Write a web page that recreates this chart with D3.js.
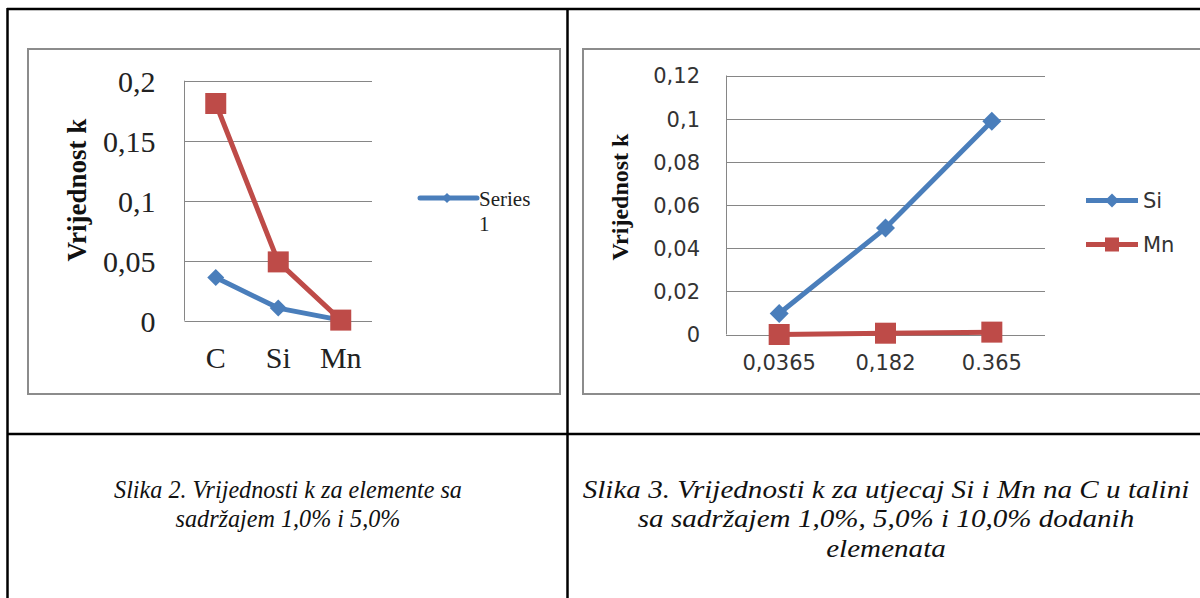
<!DOCTYPE html>
<html>
<head>
<meta charset="utf-8">
<script src="https://cdn.jsdelivr.net/npm/d3@7"></script>
<style>
  html, body { margin: 0; padding: 0; background: #fff; }
  svg { display: block; }
</style>
</head>
<body>
<svg id="chart" width="1200" height="598"></svg>
<script>
// ---------- data ----------
const leftCategories = ["C", "Si", "Mn"];
const leftSeries1 = [0.036, 0.0105, 0.0005];   // blue diamonds ("Series 1")
const leftSeries2 = [0.181, 0.049, 0.0005];    // red squares
const leftYTicks = [0, 0.05, 0.1, 0.15, 0.2];
const leftYTickLabels = ["0", "0,05", "0,1", "0,15", "0,2"];
const leftLegend = ["Series", "1"];

const rightCategories = ["0,0365", "0,182", "0.365"];
const rightSi = [0.0097, 0.0493, 0.0988];
const rightMn = [0, 0.0006, 0.0011];
const rightYTicks = [0, 0.02, 0.04, 0.06, 0.08, 0.1, 0.12];
const rightYTickLabels = ["0", "0,02", "0,04", "0,06", "0,08", "0,1", "0,12"];
const rightLegend = ["Si", "Mn"];

const yTitle = "Vrijednost k";
const captionLeft = ["Slika 2. Vrijednosti k za elemente sa", "sadržajem 1,0% i 5,0%"];
const captionRight = ["Slika 3. Vrijednosti k za utjecaj Si i Mn na C u talini",
                      "sa sadržajem 1,0%, 5,0% i 10,0% dodanih", "elemenata"];

// ---------- styles ----------
const BLUE = "#4a7ebb", RED = "#be4b48", GRID = "#868686";
const SERIF = "'Liberation Serif', 'Times New Roman', serif";
const SANS = "'DejaVu Sans', Verdana, sans-serif";

const svg = d3.select("#chart");
svg.append("rect").attr("width", 1200).attr("height", 598).attr("fill", "#fff");

// ---------- table frame ----------
const table = svg.append("g").attr("stroke", "#000").attr("stroke-width", 2.5);
table.append("line").attr("x1", 7).attr("x2", 1200).attr("y1", 9).attr("y2", 9);
table.append("line").attr("x1", 7).attr("x2", 1200).attr("y1", 434).attr("y2", 434);
table.append("line").attr("x1", 7.5).attr("x2", 7.5).attr("y1", 8).attr("y2", 598);
table.append("line").attr("x1", 567.5).attr("x2", 567.5).attr("y1", 8).attr("y2", 598);

// chart frames
svg.append("rect").attr("x", 28).attr("y", 49).attr("width", 532).attr("height", 345)
  .attr("fill", "#fff").attr("stroke", "#8c8c8c").attr("stroke-width", 2);
svg.append("rect").attr("x", 583).attr("y", 49).attr("width", 640).attr("height", 345)
  .attr("fill", "#fff").attr("stroke", "#8c8c8c").attr("stroke-width", 2);

function diamond(sel, x, y, r, color) {
  sel.append("path")
    .attr("d", `M${x},${y - r}L${x + r},${y}L${x},${y + r}L${x - r},${y}Z`)
    .attr("fill", color);
}
function square(sel, x, y, s, color) {
  sel.append("rect").attr("x", x - s / 2).attr("y", y - s / 2)
    .attr("width", s).attr("height", s).attr("fill", color);
}

// ---------- left chart ----------
{
  const g = svg.append("g");
  const x = d3.scaleBand().domain(leftCategories).range([184.5, 372]).padding(0);
  const cx = d => x(d) + x.bandwidth() / 2;
  const y = d3.scaleLinear().domain([0, 0.2]).range([320.7, 80.7]);

  g.append("g").selectAll("line").data(leftYTicks).join("line")
    .attr("x1", 184.5).attr("x2", 372)
    .attr("y1", d => Math.round(y(d)) + 0.5).attr("y2", d => Math.round(y(d)) + 0.5)
    .attr("stroke", GRID).attr("stroke-width", 1);
  g.append("line").attr("x1", 184.5).attr("x2", 184.5).attr("y1", y(0.2)).attr("y2", y(0))
    .attr("stroke", GRID);

  const ya = d3.axisLeft(y).tickValues(leftYTicks)
    .tickFormat((d, i) => leftYTickLabels[i]).tickSize(0).tickPadding(29);
  const yax = g.append("g").attr("transform", "translate(184.5,0)").call(ya);
  yax.select(".domain").remove();
  yax.selectAll("text").attr("font-family", SERIF).attr("font-size", 30).attr("fill", "#222")
    .attr("dy", "0.35em");

  const xa = d3.axisBottom(x).tickSize(0).tickPadding(26);
  const xax = g.append("g").attr("transform", `translate(0,${y(0)})`).call(xa);
  xax.select(".domain").remove();
  xax.selectAll("text").attr("font-family", SERIF).attr("font-size", 30).attr("fill", "#222");

  g.append("text").attr("transform", "translate(86,190) rotate(-90)")
    .attr("text-anchor", "middle").attr("font-family", SERIF).attr("font-weight", "bold")
    .attr("font-size", 27).attr("fill", "#111").text(yTitle);

  const line = d3.line().x((d, i) => cx(leftCategories[i])).y(d => y(d));
  g.append("path").datum(leftSeries1).attr("d", line).attr("fill", "none")
    .attr("stroke", BLUE).attr("stroke-width", 5).attr("stroke-linejoin", "round");
  g.append("path").datum(leftSeries2).attr("d", line).attr("fill", "none")
    .attr("stroke", RED).attr("stroke-width", 5).attr("stroke-linejoin", "round");
  leftSeries1.forEach((v, i) => diamond(g, cx(leftCategories[i]), y(v), 8.5, BLUE));
  leftSeries2.forEach((v, i) => square(g, cx(leftCategories[i]), y(v), 21, RED));

  const lg = g.append("g");
  lg.append("line").attr("x1", 420).attr("x2", 477).attr("y1", 198).attr("y2", 198)
    .attr("stroke", BLUE).attr("stroke-width", 5).attr("stroke-linecap", "round");
  diamond(lg, 447, 198, 5, BLUE);
  lg.append("text").attr("x", 479).attr("y", 206).attr("font-family", SERIF)
    .attr("font-size", 21).attr("fill", "#222").text(leftLegend[0]);
  lg.append("text").attr("x", 479).attr("y", 231).attr("font-family", SERIF)
    .attr("font-size", 21).attr("fill", "#222").text(leftLegend[1]);
}

// ---------- right chart ----------
{
  const g = svg.append("g");
  const x = d3.scaleBand().domain(rightCategories).range([726, 1045]).padding(0);
  const cx = d => x(d) + x.bandwidth() / 2;
  const y = d3.scaleLinear().domain([0, 0.12]).range([334.5, 75.5]);

  g.append("g").selectAll("line").data(rightYTicks).join("line")
    .attr("x1", 726).attr("x2", 1045)
    .attr("y1", d => Math.round(y(d)) + 0.5).attr("y2", d => Math.round(y(d)) + 0.5)
    .attr("stroke", GRID).attr("stroke-width", 1);
  g.append("line").attr("x1", 726.5).attr("x2", 726.5).attr("y1", y(0.12)).attr("y2", y(0))
    .attr("stroke", GRID);

  const ya = d3.axisLeft(y).tickValues(rightYTicks)
    .tickFormat((d, i) => rightYTickLabels[i]).tickSize(0).tickPadding(26);
  const yax = g.append("g").attr("transform", "translate(726,0)").call(ya);
  yax.select(".domain").remove();
  yax.selectAll("text").attr("font-family", SANS).attr("font-size", 21).attr("fill", "#333")
    .attr("dy", "0.35em");

  const xa = d3.axisBottom(x).tickSize(0).tickPadding(21);
  const xax = g.append("g").attr("transform", `translate(0,${y(0)})`).call(xa);
  xax.select(".domain").remove();
  xax.selectAll("text").attr("font-family", SANS).attr("font-size", 21).attr("fill", "#333");

  g.append("text").attr("transform", "translate(628,197) rotate(-90)")
    .attr("text-anchor", "middle").attr("font-family", SERIF).attr("font-weight", "bold")
    .attr("font-size", 24).attr("fill", "#111").text(yTitle);

  const line = d3.line().x((d, i) => cx(rightCategories[i])).y(d => y(d));
  g.append("path").datum(rightSi).attr("d", line).attr("fill", "none")
    .attr("stroke", BLUE).attr("stroke-width", 5).attr("stroke-linejoin", "round");
  g.append("path").datum(rightMn).attr("d", line).attr("fill", "none")
    .attr("stroke", RED).attr("stroke-width", 5).attr("stroke-linejoin", "round");
  rightSi.forEach((v, i) => diamond(g, cx(rightCategories[i]), y(v), 9.5, BLUE));
  rightMn.forEach((v, i) => square(g, cx(rightCategories[i]), y(v), 21, RED));

  const lg = g.append("g");
  lg.append("line").attr("x1", 1086).attr("x2", 1138).attr("y1", 200.5).attr("y2", 200.5)
    .attr("stroke", BLUE).attr("stroke-width", 5);
  diamond(lg, 1112, 200.5, 7, BLUE);
  lg.append("text").attr("x", 1143).attr("y", 208).attr("font-family", SANS)
    .attr("font-size", 21).attr("fill", "#333").text(rightLegend[0]);
  lg.append("line").attr("x1", 1086).attr("x2", 1138).attr("y1", 244.5).attr("y2", 244.5)
    .attr("stroke", RED).attr("stroke-width", 5);
  square(lg, 1112, 244.5, 14, RED);
  lg.append("text").attr("x", 1143).attr("y", 252).attr("font-family", SANS)
    .attr("font-size", 21).attr("fill", "#333").text(rightLegend[1]);
}

// ---------- captions ----------
function caption(lines, cxPos, sx) {
  svg.append("g").attr("transform", `translate(${cxPos},0) scale(${sx},1)`)
    .selectAll("text").data(lines).join("text")
    .attr("x", 0).attr("y", (d, i) => 498 + i * 29.5)
    .attr("text-anchor", "middle").attr("font-family", SERIF)
    .attr("font-style", "italic").attr("font-size", 26).attr("fill", "#111")
    .text(d => d);
}
caption(captionLeft, 288, 0.93);
caption(captionRight, 886, 1.12);
</script>
</body>
</html>
